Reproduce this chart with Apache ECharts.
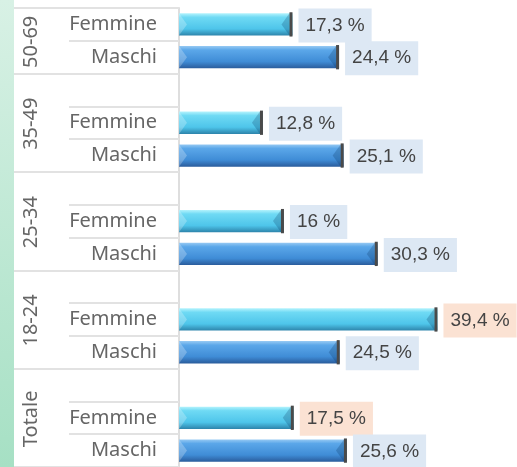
<!DOCTYPE html>
<html>
<head>
<meta charset="utf-8">
<script src="https://cdn.jsdelivr.net/npm/echarts@6/dist/echarts.min.js"></script>
<style>
  html, body { margin: 0; padding: 0; background: #fff; }
  #main { width: 517px; height: 467px; }
</style>
</head>
<body>
<div id="main"></div>
<script>
// fasce d'età, dall'alto in basso
const groups = ['50-69', '35-49', '25-34', '18-24', 'Totale']
const femmine = [17.3, 12.8, 16, 39.4, 17.5]
const maschi = [24.4, 25.1, 30.3, 24.5, 25.6]
// valori evidenziati in arancio
const femmineHighlight = [false, false, false, true, true]
const maschiHighlight = [false, false, false, false, false]

// righe dell'asse: il primo gruppo non ha la riga vuota
const rows = []
const barData = []
const groupRows = []
groups.forEach((g, i) => {
  const first = rows.length
  if (i > 0) rows.push('')
  rows.push('Femmine')
  barData.push([femmine[i], rows.length - 1, 0, femmineHighlight[i] ? 1 : 0])
  rows.push('Maschi')
  barData.push([maschi[i], rows.length - 1, 1, maschiHighlight[i] ? 1 : 0])
  groupRows.push([first, rows.length - 1])
})

const fmt = (v) => String(v).replace('.', ',') + ' %'

const barColors = [
  new echarts.graphic.LinearGradient(0, 0, 0, 1, [
    { offset: 0, color: '#b4f3fd' },
    { offset: 0.18, color: '#6fdaf4' },
    { offset: 0.7, color: '#4ec5ea' },
    { offset: 1, color: '#2d84ab' },
  ]),
  new echarts.graphic.LinearGradient(0, 0, 0, 1, [
    { offset: 0, color: '#96c9f3' },
    { offset: 0.18, color: '#5ba7e9' },
    { offset: 0.7, color: '#3f8cd6' },
    { offset: 1, color: '#2a5c9c' },
  ]),
]

const chart = echarts.init(document.getElementById('main'), null, { renderer: 'canvas' })

function renderBar(params, api) {
  const v = api.value(0)
  const row = api.value(1)
  const sex = api.value(2)
  const hi = api.value(3)
  const start = api.coord([0, row])
  const end = api.coord([v, row])
  const rowH = api.size([0, 1])[1]
  const h = rowH * 0.68
  const x0 = start[0]
  const x1 = end[0]
  const y = start[1] - h / 2
  return {
    type: 'group',
    children: [
      { type: 'rect', shape: { x: x0, y: y, width: x1 - x0, height: h }, style: { fill: barColors[sex] } },
      {
        type: 'polygon',
        shape: { points: [[x0, y], [x0 + 8, y + h / 2], [x0, y + h]] },
        style: { fill: 'rgba(255,255,255,0.25)' },
      },
      {
        type: 'polygon',
        shape: { points: [[x1 - 3, y], [x1 - 11, y + h / 2], [x1 - 3, y + h]] },
        style: { fill: 'rgba(0,40,80,0.22)' },
      },
      { type: 'rect', shape: { x: x1 - 3, y: y - 1, width: 3, height: h + 2 }, style: { fill: '#4a4a4a' } },
      {
        type: 'text',
        x: x1 + 6,
        y: start[1] + 1,
        style: {
          text: fmt(v),
          fontSize: 19,
          fontFamily: 'Liberation Sans',
          fill: '#444',
          verticalAlign: 'middle',
          align: 'left',
          backgroundColor: hi ? '#fbe2d3' : '#dde8f4',
          padding: [7, 7, 7, 7],
          lineHeight: 20,
        },
      },
    ],
  }
}

const groupStarts = groupRows.map((g) => g[0])

chart.setOption({
  animation: false,
  backgroundColor: '#fff',
  grid: { left: 179, right: 10, top: 8, height: 465 },
  xAxis: { type: 'value', min: 0, max: 50, show: false },
  yAxis: [
    {
      type: 'category',
      inverse: true,
      data: rows,
      axisLine: { show: true, lineStyle: { color: '#dedede', width: 2 } },
      axisTick: { show: true, length: 110, lineStyle: { color: '#e2e2e2', width: 2 } },
      axisLabel: { fontSize: 20, color: '#666', margin: 22, fontFamily: 'Noto Sans', padding: [5, 0, 0, 0] },
    },
    {
      type: 'category',
      inverse: true,
      data: rows,
      position: 'left',
      axisLine: { show: false },
      axisTick: {
        show: true,
        length: 165,
        interval: (idx) => groupStarts.includes(idx),
        lineStyle: { color: '#e2e2e2', width: 2 },
      },
      axisLabel: { show: false },
    },
  ],
  series: [
    {
      type: 'custom',
      renderItem: renderBar,
      encode: { x: 0, y: 1 },
      data: barData,
    },
  ],
})

// striscia verde a sinistra ed etichette dei gruppi
const groupLabels = groups.map((g, i) => {
  const a = chart.convertToPixel({ yAxisIndex: 0 }, groupRows[i][0])
  const b = chart.convertToPixel({ yAxisIndex: 0 }, groupRows[i][1])
  return {
    type: 'text',
    x: 31,
    y: (a + b) / 2 + 1,
    rotation: Math.PI / 2,
    style: {
      text: g,
      fontSize: 20,
      fontFamily: 'Noto Sans',
      fill: '#666',
      align: 'center',
      verticalAlign: 'middle',
    },
  }
})

chart.setOption({
  graphic: [
    {
      type: 'rect',
      shape: { x: 0, y: 0, width: 14, height: 467 },
      style: {
        fill: new echarts.graphic.LinearGradient(0, 0, 0, 1, [
          { offset: 0, color: '#d8f1e5' },
          { offset: 1, color: '#a6e0c4' },
        ]),
      },
    },
    ...groupLabels,
  ],
})
</script>
</body>
</html>
